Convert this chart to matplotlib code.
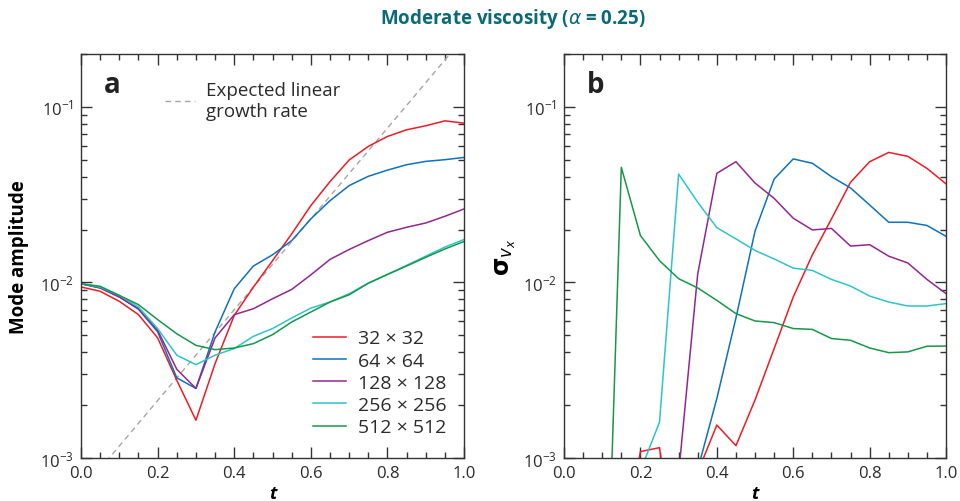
import numpy as np
import matplotlib.pyplot as plt
from matplotlib.ticker import LogLocator, MultipleLocator, NullFormatter

plt.rcParams['font.family'] = ['Open Sans', 'DejaVu Sans']
plt.rcParams['mathtext.default'] = 'regular'

# time samples
t = np.arange(0, 1.0001, 0.05)

labels = ['32 × 32', '64 × 64', '128 × 128', '256 × 256', '512 × 512']
colors = ['#ed1c24', '#0d72bd', '#92278f', '#2ec4c8', '#17974a']

# panel a: mode amplitude
amp_32 = [0.00942, 0.0089, 0.0078, 0.00655, 0.00483, 0.00277, 0.00164, 0.00345, 0.00649, 0.0094, 0.0133,
          0.0189, 0.0274, 0.0375, 0.0498, 0.0595, 0.0678, 0.074, 0.078, 0.0832, 0.0807]
amp_64 = [0.00983, 0.0093, 0.00826, 0.00703, 0.00523, 0.00286, 0.00249, 0.00523, 0.0092, 0.0124, 0.01436,
          0.0173, 0.023, 0.0292, 0.0356, 0.0402, 0.0436, 0.0468, 0.0489, 0.05, 0.0515]
amp_128 = [0.00983, 0.0093, 0.00826, 0.0071, 0.00534, 0.0032, 0.00249, 0.00483, 0.00655, 0.00708, 0.00807,
           0.00912, 0.01104, 0.01352, 0.0154, 0.0173, 0.0193, 0.0206, 0.0218, 0.0238, 0.0262]
amp_256 = [0.00983, 0.0094, 0.00843, 0.00724, 0.00546, 0.00385, 0.0034, 0.00385, 0.0042, 0.00493, 0.00546,
           0.00627, 0.00714, 0.00773, 0.00862, 0.0099, 0.0111, 0.0125, 0.0141, 0.0159, 0.01755]
amp_512 = [0.00983, 0.0095, 0.00843, 0.00747, 0.00614, 0.0051, 0.00438, 0.00414, 0.00423, 0.00448, 0.00504,
           0.00595, 0.00678, 0.00773, 0.0085, 0.0099, 0.0111, 0.0124, 0.0139, 0.0155, 0.0171]

# expected linear growth (straight line on log axis)
lin_t = [0.0, 1.0]
lin_amp = [6.45e-4, 0.249]

# panel b: sigma_vx  (nan = off the bottom of the chart)
nan = np.nan
sig_32 = [nan, nan, nan, 2.7e-4, 0.001087, 0.001145, 1.8e-4, 8.3e-4, 0.00154, 0.001175, 0.00214,
          0.0042, 0.00826, 0.01435, 0.023, 0.0372, 0.0487, 0.055, 0.0522, 0.0446, 0.0364]
sig_64 = [nan, nan, nan, nan, nan, nan, nan, 8.6e-4, 0.00218, 0.00627, 0.0196,
          0.0388, 0.0505, 0.0477, 0.04, 0.0345, 0.0276, 0.022, 0.022, 0.0211, 0.0183]
sig_128 = [nan, nan, nan, nan, nan, nan, 8.1e-4, 0.0112, 0.0418, 0.0487, 0.0368,
           0.0301, 0.0232, 0.0199, 0.0203, 0.0161, 0.0164, 0.0141, 0.0129, 0.0104, 0.00863]
sig_256 = [nan, nan, nan, nan, 8.45e-4, 0.0016, 0.0414, 0.0286, 0.0205, 0.0177, 0.0152,
           0.0136, 0.01206, 0.0117, 0.0104, 0.00953, 0.00836, 0.00773, 0.00734, 0.00734, 0.00757]
sig_512 = [nan, nan, 1.8e-5, 0.0452, 0.0185, 0.0133, 0.0105, 0.0093, 0.0079, 0.00664, 0.00603,
           0.0059, 0.00546, 0.0054, 0.00479, 0.00468, 0.00423, 0.00398, 0.00402, 0.00433, 0.00434]

amps = [amp_32, amp_64, amp_128, amp_256, amp_512]
sigs = [sig_32, sig_64, sig_128, sig_256, sig_512]

fig = plt.figure(figsize=(9.6, 5.02), dpi=100)
ax1 = fig.add_axes([0.0844, 0.0857, 0.399, 0.8048])
ax2 = fig.add_axes([0.5875, 0.0857, 0.398, 0.8048])

axis_col = '#333333'
text_col = '#2b2b2b'


def style(ax):
    ax.set_yscale('log')
    ax.set_xlim(0, 1)
    ax.set_ylim(1e-3, 0.2)
    ax.xaxis.set_major_locator(MultipleLocator(0.2))
    ax.xaxis.set_minor_locator(MultipleLocator(0.05))
    ax.yaxis.set_major_locator(LogLocator(base=10, numticks=10))
    ax.yaxis.set_minor_locator(LogLocator(base=10, subs=np.arange(2, 10), numticks=10))
    ax.yaxis.set_minor_formatter(NullFormatter())
    ax.xaxis.set_major_formatter(plt.FuncFormatter(lambda v, p: f'{v:.1f}'))
    ax.tick_params(which='both', direction='in', top=True, right=True, colors=axis_col,
                   labelcolor=text_col, labelsize=12, width=1.0)
    ax.tick_params(which='major', length=8, pad=5)
    ax.tick_params(which='minor', length=4.5)
    for s in ax.spines.values():
        s.set_color(axis_col)
        s.set_linewidth(1.0)
    ax.set_xlabel('t', fontsize=13, fontweight='bold', style='italic', labelpad=2)


style(ax1)
style(ax2)

dash, = ax1.plot(lin_t, lin_amp, color='#a6a6a6', lw=1.0, ls=(0, (4, 3)), label='Expected linear\ngrowth rate')
handles = []
for y, c, lab in zip(amps, colors, labels):
    h, = ax1.plot(t, y, color=c, lw=1.1, label=lab)
    handles.append(h)

for y, c in zip(sigs, colors):
    ax2.plot(t, y, color=c, lw=1.1)

leg1 = ax1.legend(handles=[dash], loc='upper left', bbox_to_anchor=(0.175, 0.975), frameon=False,
                  fontsize=13.5, handlelength=1.6, handletextpad=0.6, labelcolor=text_col,
                  labelspacing=0.1)
ax1.add_artist(leg1)
ax1.legend(handles=handles, loc='lower right', bbox_to_anchor=(1.0, 0.01), frameon=False,
           fontsize=14, handlelength=1.7, handletextpad=0.6, labelspacing=0.22, labelcolor=text_col)

ax1.text(0.06, 0.925, 'a', transform=ax1.transAxes, fontsize=20, fontweight='bold', va='center', color='#222222')
ax2.text(0.06, 0.925, 'b', transform=ax2.transAxes, fontsize=20, fontweight='bold', va='center', color='#222222')

ax1.set_ylabel('Mode amplitude', fontsize=13.5, fontweight='bold', labelpad=8)
ax2.set_ylabel(r'$\mathbf{\sigma}_{\mathit{v_x}}$', fontsize=17, labelpad=4)

fig.text(0.534, 0.963, r'Moderate viscosity ($\mathit{\alpha}$ = 0.25)', fontsize=13.5, fontweight='bold',
         color='#0b6a78', ha='center', va='center')

plt.savefig('out.png', dpi=100)
